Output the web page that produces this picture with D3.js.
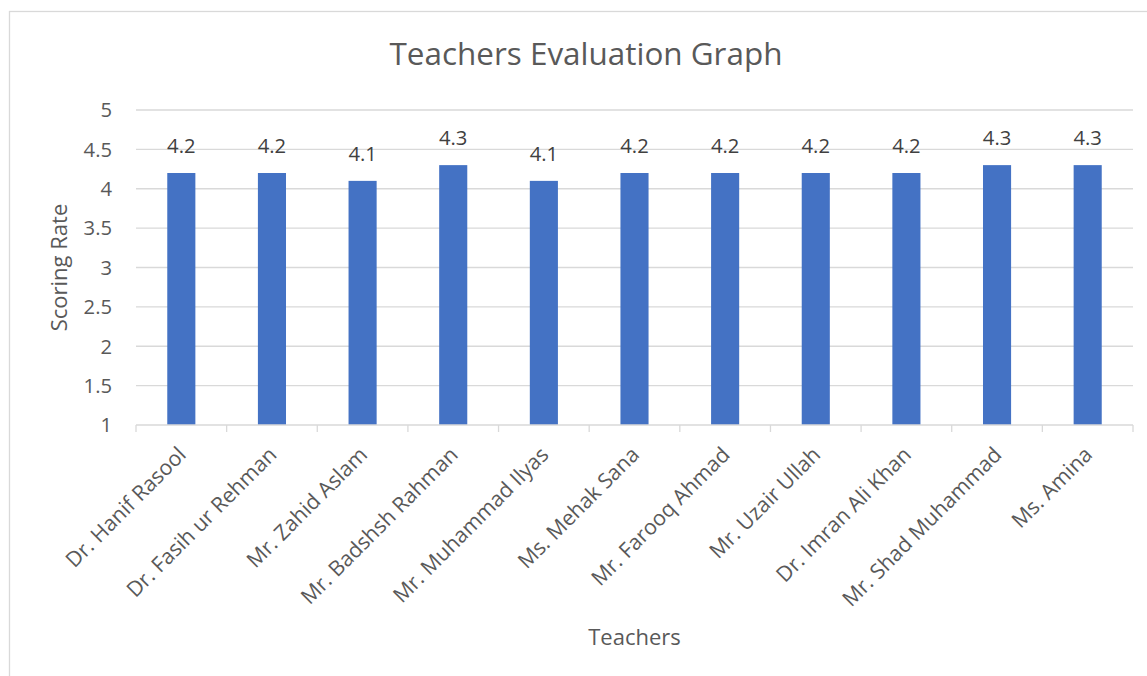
<!DOCTYPE html>
<html><head><meta charset="utf-8">
<script src="https://cdn.jsdelivr.net/npm/d3@7/dist/d3.min.js"></script>
<style>body{margin:0;background:#fff}svg{display:block}text{font-family:"Open Sans",Lato,sans-serif}</style>
</head><body><svg id="c" width="1147" height="676"></svg>
<script>
const teachers = ["Dr. Hanif Rasool","Dr. Fasih ur Rehman","Mr. Zahid Aslam","Mr. Badshsh Rahman","Mr. Muhammad Ilyas","Ms. Mehak Sana","Mr. Farooq Ahmad","Mr. Uzair Ullah","Dr. Imran Ali Khan","Mr. Shad Muhammad","Ms. Amina"];
const scores = [4.2,4.2,4.1,4.3,4.1,4.2,4.2,4.2,4.2,4.3,4.3];
const yTicks = [1,1.5,2,2.5,3,3.5,4,4.5,5];
const chartTitle = "Teachers Evaluation Graph";
const xTitle = "Teachers";
const yTitle = "Scoring Rate";

const svg = d3.select("#c");
const L = 136, R = 1133, T = 110, B = 425;
const x = d3.scaleBand().domain(teachers).range([L, R]).paddingInner(0.69).paddingOuter(0.345);
const xb = d3.scaleBand().domain(teachers).range([L, R]);
const y = d3.scaleLinear().domain([1,5]).range([B, T]);

const probe = svg.append("text").attr("font-size",100).text(chartTitle);
const w100 = probe.node().getComputedTextLength();
probe.remove();
const fTitle = 100*393/w100;
const fAxis = fTitle*10/14*0.98;
const fTick = fTitle*9/14;
const fCat = fTick*1.05;

svg.append("rect").attr("x",9.5).attr("y",11.5).attr("width",1150).attr("height",700)
  .attr("fill","#fff").attr("stroke","#d9d9d9").attr("stroke-width",1.3);

svg.append("g").selectAll("line").data(yTicks.filter(d=>d>1)).join("line")
  .attr("x1",L).attr("x2",R).attr("y1",d=>y(d)).attr("y2",d=>y(d))
  .attr("stroke","#d9d9d9").attr("stroke-width",1.3);

svg.append("g").selectAll("text").data(yTicks).join("text")
  .attr("x",112).attr("y",d=>y(d)).attr("dy","0.36em").attr("text-anchor","end")
  .attr("fill","#595959").attr("font-size",fTick).text(d=>d);

svg.append("g").selectAll("rect").data(scores).join("rect")
  .attr("x",(d,i)=>x(teachers[i])).attr("width",x.bandwidth())
  .attr("y",d=>y(d)).attr("height",d=>y(1)-y(d)).attr("fill","#4472c4");

svg.append("g").selectAll("text").data(scores).join("text")
  .attr("x",(d,i)=>x(teachers[i])+x.bandwidth()/2).attr("y",d=>y(d)-20)
  .attr("text-anchor","middle").attr("fill","#404040").attr("font-size",fTick).text(d=>d.toFixed(1));

svg.append("line").attr("x1",L).attr("x2",R).attr("y1",B).attr("y2",B).attr("stroke","#d9d9d9").attr("stroke-width",1.3);
const bounds = teachers.map(t=>xb(t)).concat([R]);
svg.append("g").selectAll("line").data(bounds).join("line")
  .attr("x1",d=>d).attr("x2",d=>d).attr("y1",B).attr("y2",B+7).attr("stroke","#d9d9d9").attr("stroke-width",1.3);

svg.append("g").selectAll("text").data(teachers).join("text")
  .attr("transform",d=>`translate(${xb(d)+xb.bandwidth()/2+6},${456}) rotate(-45)`)
  .attr("text-anchor","end").attr("fill","#595959").attr("font-size",fCat).text(d=>d);

svg.append("text").attr("x",586).attr("y",65).attr("text-anchor","middle")
  .attr("fill","#595959").attr("font-size",fTitle).text(chartTitle);
svg.append("text").attr("x",(L+R)/2).attr("y",645).attr("text-anchor","middle")
  .attr("fill","#595959").attr("font-size",fAxis).text(xTitle);
svg.append("text").attr("transform",`translate(66.5,${(T+B)/2}) rotate(-90)`).attr("text-anchor","middle")
  .attr("fill","#595959").attr("font-size",fAxis).text(yTitle);
</script></body></html>
